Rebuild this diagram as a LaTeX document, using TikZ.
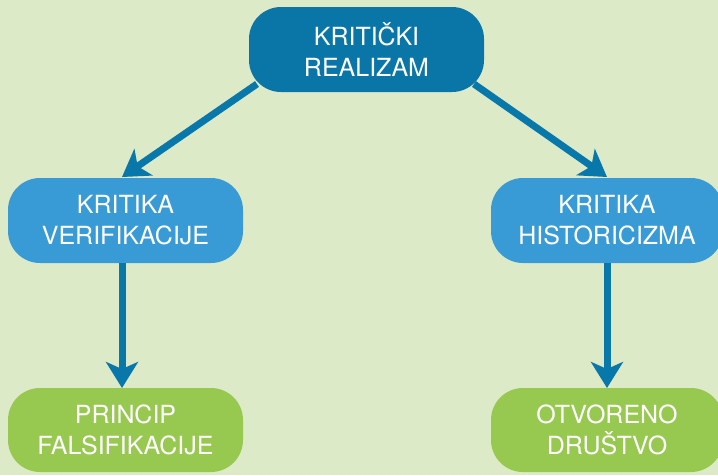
\documentclass[tikz,border=0pt]{standalone}
\usepackage{fontspec}
\setmainfont{TeX Gyre Heros}
\usetikzlibrary{arrows.meta}
\definecolor{bg}{HTML}{DDEAC8}
\definecolor{topc}{HTML}{0A76A8}
\definecolor{midc}{HTML}{389BD6}
\definecolor{botc}{HTML}{97C850}
\definecolor{arrc}{HTML}{0877AA}
\begin{document}
\begin{tikzpicture}[x=1pt,y=-1pt,
  box/.style={rounded corners=32pt,minimum width=235pt,minimum height=85pt,
    align=center,text=white,font=\fontsize{25}{31}\selectfont,inner sep=0pt},
  conn/.style={draw=arrc,line width=7pt,-{Stealth[length=26pt,width=32pt,inset=7pt]}}]
\fill[bg] (0,0) rectangle (718,475);
\useasboundingbox (0,0) rectangle (718,475);
\node[box,fill=topc] (top) at (366.5,49.5) {KRITIČKI\\REALIZAM};
\node[box,fill=midc] (kv) at (125.5,220.5) {KRITIKA\\VERIFIKACIJE};
\node[box,fill=midc,minimum width=232pt] (kh) at (607,220.5) {KRITIKA\\HISTORICIZMA};
\node[box,fill=botc,minimum height=84pt] (pf) at (125.5,430) {PRINCIP\\FALSIFIKACIJE};
\node[box,fill=botc,minimum width=232pt,minimum height=84pt] (od) at (607,430) {OTVORENO\\DRUŠTVO};
\coordinate (a1) at (257,84);
\coordinate (a2) at (474,84);
\draw[conn] (a1) -- (122,177);
\draw[conn] (a2) -- (607,177);
\draw[conn] (kv.south -| 122,0) -- (122,388);
\draw[conn] (kh.south) -- (607,388);
\end{tikzpicture}
\end{document}
